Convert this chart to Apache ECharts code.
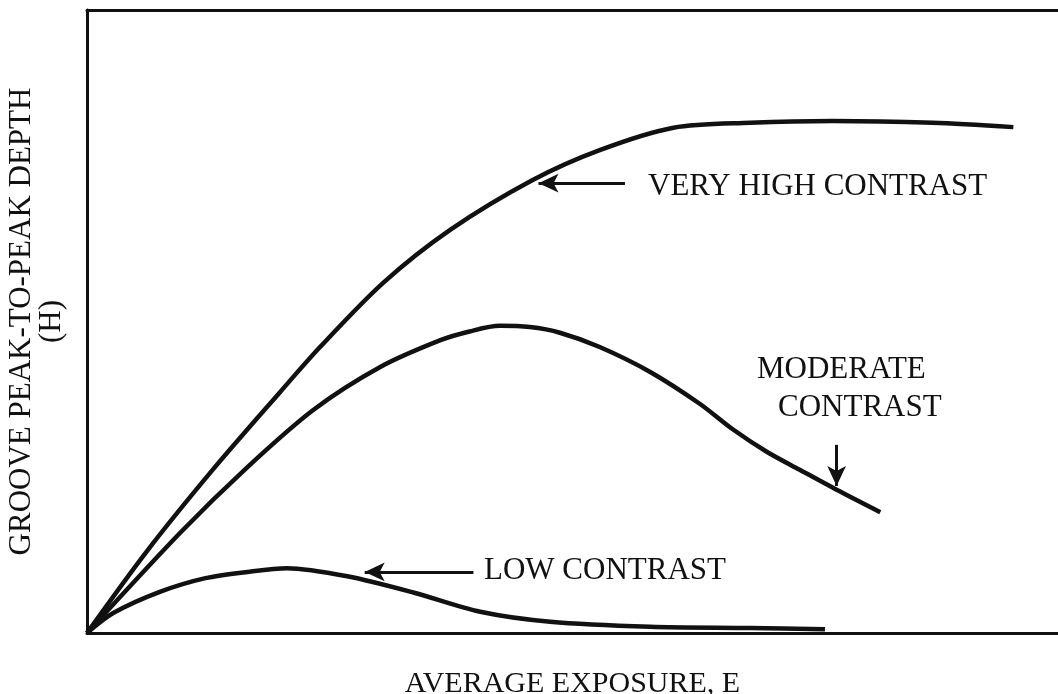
<!DOCTYPE html>
<html>
<head>
<meta charset="utf-8">
<script src="https://cdn.jsdelivr.net/npm/echarts@6/dist/echarts.min.js"></script>
<style>
  html, body { margin: 0; background: #fff; }
  #main { width: 1058px; height: 694px; }
</style>
</head>
<body>
<div id="main"></div>
<script>
// curves, x = average exposure, y = groove depth (0-100 both)
var veryHigh = [[0,0],[6.1,13.0],[13.0,26.3],[19.9,38.7],[24.0,45.9],[30.5,56.2],[37.4,64.7],
  [45.9,72.7],[52.8,77.5],[60.4,81.1],[68.3,81.9],[76.8,82.2],[87.1,81.9],[95.4,81.2]]
var moderate = [[0,0],[9.6,16.1],[16.5,26.6],[23.3,35.8],[30.2,42.7],[36.4,47.0],[39.4,48.4],
  [42.5,49.3],[45.6,49.1],[48.7,48.2],[52.8,45.9],[58.0,41.9],[63.1,36.8],[66.5,32.7],
  [70.0,29.1],[73.4,26.2],[77.2,23.0],[81.7,19.4]]
var low = [[0,0],[2.7,3.2],[7.5,6.6],[12.2,8.8],[16.5,9.8],[20.6,10.4],[26.8,9.1],[33.6,6.5],
  [40.5,3.4],[47.7,1.8],[58.0,1.0],[68.3,0.8],[76.0,0.6]]

// arrows: [tail, tip]
var arrowVeryHigh = [[55.4, 72.2], [46.5, 72.2]]
var arrowModerate = [[77.2, 30.2], [77.2, 23.6]]
var arrowLow = [[39.8, 9.8], [28.6, 9.8]]

var ink = '#111'
var serif = '"Liberation Serif", "DejaVu Serif", serif'

function arrow(pts) {
  return {
    silent: true,
    symbol: ['none', 'arrow'],
    symbolSize: [14, 20],
    lineStyle: { color: ink, width: 3, type: 'solid' },
    label: { show: false },
    data: [[{ coord: pts[0] }, { coord: pts[1] }]]
  }
}

function curve(name, data, ar) {
  return {
    name: name,
    type: 'line',
    data: data,
    smooth: 0.3,
    showSymbol: false,
    lineStyle: { color: ink, width: 4.5 },
    markLine: arrow(ar)
  }
}

var myChart = echarts.init(document.getElementById('main'))
var option = {
  backgroundColor: '#fff',
  animation: false,
  grid: { left: 87, right: 0, top: 10, bottom: 61, outerBoundsMode: 'none', containLabel: false },
  xAxis: [
    {
      type: 'value', min: 0, max: 100,
      name: 'AVERAGE EXPOSURE, E',
      nameLocation: 'middle', nameGap: 36,
      nameTextStyle: { color: ink, fontFamily: serif, fontSize: 30 },
      axisLine: { show: true, lineStyle: { color: ink, width: 3 } },
      axisTick: { show: false }, axisLabel: { show: false }, splitLine: { show: false }
    },
    {
      type: 'value', min: 0, max: 100, position: 'top',
      axisLine: { show: true, lineStyle: { color: ink, width: 3 } },
      axisTick: { show: false }, axisLabel: { show: false }, splitLine: { show: false }
    }
  ],
  yAxis: {
    type: 'value', min: 0, max: 100,
    name: 'GROOVE PEAK-TO-PEAK DEPTH\n(H)',
    nameLocation: 'middle', nameGap: 20, nameRotate: 90,
    nameTextStyle: { color: ink, fontFamily: serif, fontSize: 31, lineHeight: 30 },
    axisLine: { show: true, lineStyle: { color: ink, width: 3 } },
    axisTick: { show: false }, axisLabel: { show: false }, splitLine: { show: false }
  },
  graphic: [
    { type: 'text', left: 648, top: 171, style: { text: 'VERY HIGH CONTRAST', fill: ink, font: '31px ' + serif } },
    { type: 'text', left: 757, top: 354, style: { text: 'MODERATE', fill: ink, font: '31px ' + serif } },
    { type: 'text', left: 778, top: 392, style: { text: 'CONTRAST', fill: ink, font: '31px ' + serif } },
    { type: 'text', left: 484, top: 555, style: { text: 'LOW CONTRAST', fill: ink, font: '31px ' + serif } }
  ],
  series: [
    curve('Very high contrast', veryHigh, arrowVeryHigh),
    curve('Moderate contrast', moderate, arrowModerate),
    curve('Low contrast', low, arrowLow)
  ]
}
myChart.setOption(option)
</script>
</body>
</html>
